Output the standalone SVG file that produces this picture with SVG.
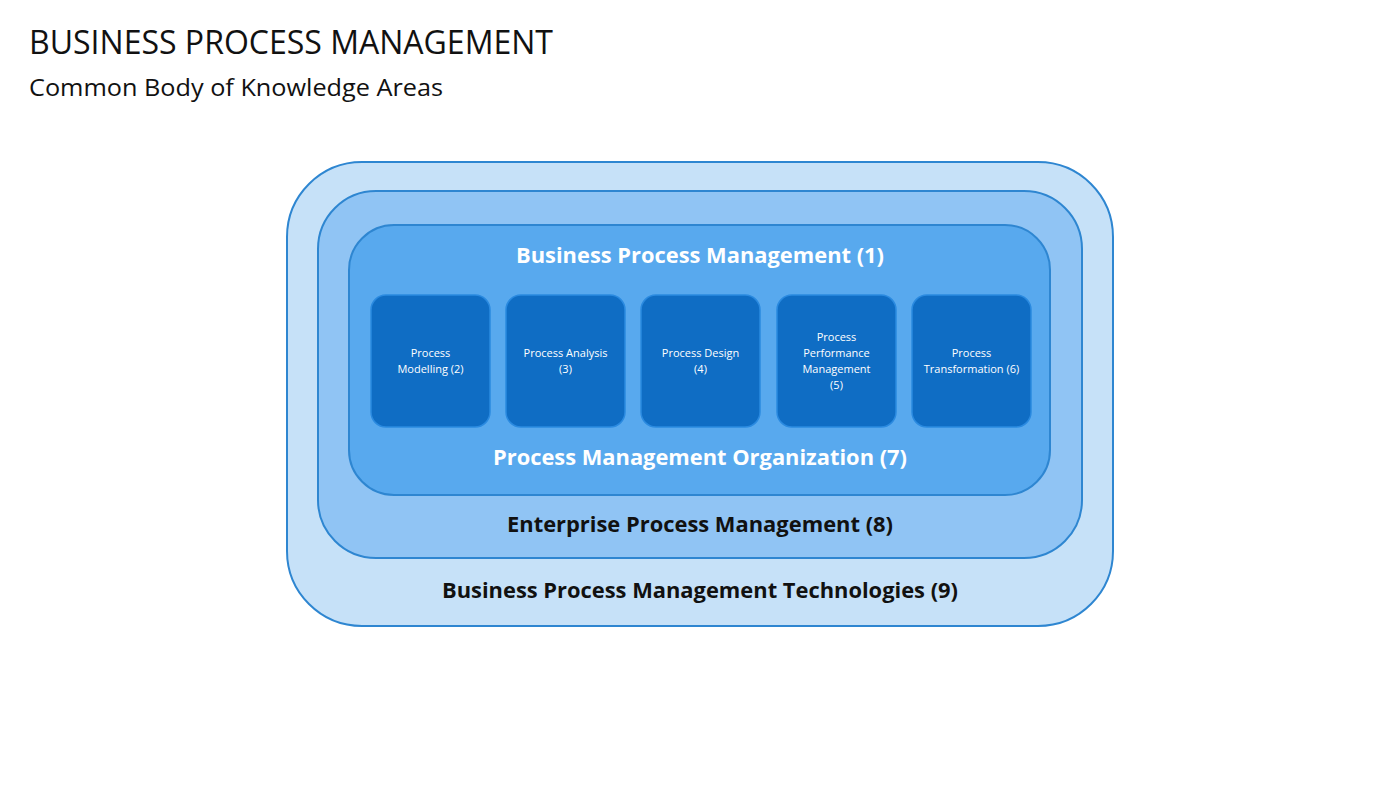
<svg xmlns="http://www.w3.org/2000/svg" width="1400" height="788" viewBox="0 0 1400 788">
<style>
text{font-family:"Open Sans","Noto Sans","Liberation Sans",sans-serif}
.box{fill:#0F6DC4;stroke:#2A8AE0;stroke-width:1.5}
.bt{fill:#fff;font-size:11px;text-anchor:middle}
.h{font-size:21px;font-weight:bold;text-anchor:middle}
</style>
<rect width="1400" height="788" fill="#fff"/>
<text x="29" y="54" font-size="32" textLength="524" lengthAdjust="spacingAndGlyphs" fill="#111">BUSINESS PROCESS MANAGEMENT</text>
<text x="29" y="96" font-size="24" textLength="414" lengthAdjust="spacingAndGlyphs" fill="#111">Common Body of Knowledge Areas</text>
<g id="outer"><rect x="287" y="162" width="826" height="464" rx="75" fill="#C6E1F8" stroke="#2E86D1" stroke-width="2"/>
<text class="h" x="700" y="598" fill="#111" textLength="516" lengthAdjust="spacingAndGlyphs">Business Process Management Technologies (9)</text></g>
<g id="middle"><rect x="318" y="191" width="764" height="367" rx="58" fill="#90C4F4" stroke="#2E86D1" stroke-width="2"/>
<text class="h" x="700" y="532" fill="#111" textLength="386" lengthAdjust="spacingAndGlyphs">Enterprise Process Management (8)</text></g>
<g id="inner"><rect x="349" y="225" width="701" height="270" rx="45" fill="#58A9EE" stroke="#2E86D1" stroke-width="2"/>
<text class="h" x="700" y="263" fill="#fff" textLength="368" lengthAdjust="spacingAndGlyphs">Business Process Management (1)</text>
<text class="h" x="700" y="465" fill="#fff" textLength="414" lengthAdjust="spacingAndGlyphs">Process Management Organization (7)</text></g>
<g id="n2"><rect class="box" x="371" y="295" width="119" height="132" rx="15"/><text class="bt" x="430.5" y="357">Process</text><text class="bt" x="430.5" y="373">Modelling (2)</text></g>
<g id="n3"><rect class="box" x="506" y="295" width="119" height="132" rx="15"/><text class="bt" x="565.5" y="357">Process Analysis</text><text class="bt" x="565.5" y="373">(3)</text></g>
<g id="n4"><rect class="box" x="641" y="295" width="119" height="132" rx="15"/><text class="bt" x="700.5" y="357">Process Design</text><text class="bt" x="700.5" y="373">(4)</text></g>
<g id="n5"><rect class="box" x="777" y="295" width="119" height="132" rx="15"/><text class="bt" x="836.5" y="341">Process</text><text class="bt" x="836.5" y="357">Performance</text><text class="bt" x="836.5" y="373">Management</text><text class="bt" x="836.5" y="389">(5)</text></g>
<g id="n6"><rect class="box" x="912" y="295" width="119" height="132" rx="15"/><text class="bt" x="971.5" y="357">Process</text><text class="bt" x="971.5" y="373">Transformation (6)</text></g>
<g id="connectors"/>
</svg>
